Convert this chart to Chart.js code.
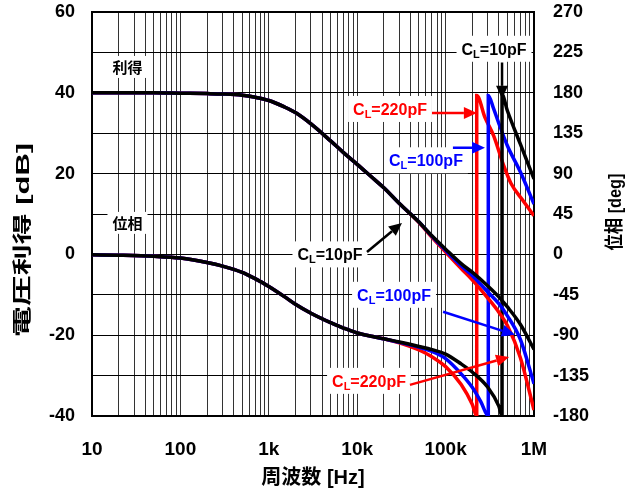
<!DOCTYPE html>
<html>
<head>
<meta charset="utf-8">
<script src="https://cdn.jsdelivr.net/npm/chart.js@4.4.1/dist/chart.umd.min.js"></script>
<style>
html, body { margin: 0; padding: 0; background: #fff; }
canvas { display: block; }
</style>
</head>
<body>
<canvas id="bode" width="636" height="495"></canvas>
<script>
'use strict';

// gain [dB] vs frequency [Hz]
const gainFreq = [10, 20, 50, 100, 200, 300, 500, 700, 1000, 1500, 2000, 3000, 5000, 7000, 10000, 15000, 20000, 30000, 50000, 70000, 100000, 150000, 200000, 300000, 400000, 500000, 700000, 1000000];
const gain10pF = [40.0, 40.0, 40.0, 39.9, 39.8, 39.7, 39.4, 38.9, 38.1, 36.5, 35.1, 32.3, 28.1, 25.2, 22.3, 18.9, 16.5, 12.6, 8.0, 4.6, 1.3, -2.3, -4.4, -7.8, -10.5, -13.0, -17.3, -23.5];
const gain100pF = [40.0, 40.0, 40.0, 39.9, 39.8, 39.7, 39.4, 38.9, 38.1, 36.5, 35.1, 32.3, 28.1, 25.2, 22.3, 18.9, 16.5, 12.6, 8.0, 4.5, 1.0, -2.8, -5.2, -9.3, -12.2, -15.2, -21.0, -32.0];
const gain220pF = [40.0, 40.0, 40.0, 39.9, 39.8, 39.7, 39.4, 38.9, 38.1, 36.5, 35.1, 32.3, 28.1, 25.2, 22.3, 18.9, 16.5, 12.6, 7.9, 4.2, 0.6, -3.5, -6.3, -10.8, -14.3, -17.6, -25.5, -38.5];

// phase [deg], the jump at -180 -> +180 is kept as two points at the same frequency
const phaseFreq10pF = [10, 20, 50, 100, 200, 300, 500, 700, 1000, 1500, 2000, 3000, 5000, 7000, 10000, 15000, 20000, 30000, 50000, 70000, 100000, 150000, 200000, 300000, 400000, 435000, 435000, 500000, 700000, 1000000];
const phase10pF = [-0.4, -0.9, -2.1, -4.1, -9, -13, -20, -27, -35.7, -47, -55.5, -65.5, -76, -82, -87.5, -91.5, -94, -97.5, -102.5, -106, -111, -122, -131, -148, -169, -180, 178, 160, 123, 84];
const phaseFreq100pF = [10, 20, 50, 100, 200, 300, 500, 700, 1000, 1500, 2000, 3000, 5000, 7000, 10000, 15000, 20000, 30000, 50000, 70000, 100000, 150000, 200000, 250000, 304000, 304000, 350000, 400000, 500000, 700000, 1000000];
const phase100pF = [-0.4, -0.9, -2.1, -4.1, -9, -13, -20, -27, -35.7, -47, -55.5, -65.5, -76, -82, -87.5, -91.5, -94, -98, -103.5, -108, -116, -133, -148, -164, -180, 177, 162, 146, 121, 92, 56];
const phaseFreq220pF = [10, 20, 50, 100, 200, 300, 500, 700, 1000, 1500, 2000, 3000, 5000, 7000, 10000, 15000, 20000, 30000, 50000, 70000, 100000, 150000, 200000, 225000, 225000, 280000, 350000, 450000, 550000, 750000, 1000000];
const phase220pF = [-0.4, -0.9, -2.1, -4.1, -9, -13, -20, -27, -35.7, -47, -55.5, -65.5, -76, -82, -87.5, -91.5, -94, -98.5, -106.5, -114, -125, -145, -167, -180, 177, 152, 132, 100, 79, 60, 43];

// axes
const xDecades = [10, 100, 1000, 10000, 100000, 1000000];
const xTickLabels = ['10', '100', '1k', '10k', '100k', '1M'];
const phaseTicks = [-180, -135, -90, -45, 0, 45, 90, 135, 180, 225, 270];

const RED = '#ff0000';
const BLUE = '#0000ff';
const BLACK = '#000000';
const FAMILY = "'Liberation Sans', Arial, 'Noto Sans CJK JP', sans-serif";

// annotation labels and arrows, placed in data coords (Hz, dB)
const notes = [
	{text: '利得', f: 25.2, db: 46.4, color: BLACK},
	{text: '位相', f: 25.2, db: 7.8, color: BLACK},
	{cl: '10pF', f: 4920, db: 0, color: BLACK},
	{cl: '10pF', f: 353000, db: 50.9, color: BLACK},
	{cl: '220pF', f: 23500, db: 36, color: RED},
	{cl: '100pF', f: 60000, db: 23.3, color: BLUE},
	{cl: '100pF', f: 26100, db: -10, color: BLUE},
	{cl: '220pF', f: 13600, db: -31.3, color: RED},
];
const arrows = [
	{from: [12900, 0.6], to: [32100, 7.8], color: BLACK},
	{from: [435000, 47.5], to: [435000, 38.5], color: BLACK},
	{from: [70200, 35], to: [226000, 35], color: RED},
	{from: [121000, 26.4], to: [279000, 26.4], color: BLUE},
	{from: [93600, -14.2], to: [609000, -19.9], color: BLUE},
	{from: [39500, -32.3], to: [523000, -25.4], color: RED},
];

function pts(xs, ys) {
	return xs.map((x, i) => ({x: x, y: ys[i]}));
}

function minorTicks() {
	let out = [];
	for (let d of xDecades) {
		if (d >= 1000000) {
			out.push(d);
			break;
		}
		for (let m = 1; m < 10; m++) {
			out.push(d * m);
		}
	}
	return out;
}

// keep the plot box fixed: no extra room for half tick labels
function fixBox(size) {
	return scale => {
		if (scale.isHorizontal()) {
			scale.height = size;
		} else {
			scale.width = size;
		}
		scale.paddingTop = 0;
		scale.paddingBottom = 0;
		scale.paddingLeft = 0;
		scale.paddingRight = 0;
	};
}

function drawArrow(ctx, x1, y1, x2, y2, color) {
	let ang = Math.atan2(y2 - y1, x2 - x1);
	let len = 13, half = 6;
	let bx = x2 - len * Math.cos(ang), by = y2 - len * Math.sin(ang);
	ctx.strokeStyle = color;
	ctx.lineWidth = 2.5;
	ctx.beginPath();
	ctx.moveTo(x1, y1);
	ctx.lineTo(bx, by);
	ctx.stroke();
	ctx.fillStyle = color;
	ctx.beginPath();
	ctx.moveTo(x2, y2);
	ctx.lineTo(bx + half * Math.sin(ang), by - half * Math.cos(ang));
	ctx.lineTo(bx - half * Math.sin(ang), by + half * Math.cos(ang));
	ctx.closePath();
	ctx.fill();
}

function drawNote(ctx, cx, cy, note) {
	let main = 'bold 16px ' + FAMILY;
	let sub = 'bold 11px ' + FAMILY;
	let base = cy + 6;
	ctx.textAlign = 'left';
	ctx.textBaseline = 'alphabetic';
	if (note.text) {
		ctx.font = 'bold 15px ' + FAMILY;
		let w = ctx.measureText(note.text).width;
		ctx.fillStyle = '#fff';
		ctx.fillRect(cx - w / 2 - 5, cy - 11, w + 10, 22);
		ctx.fillStyle = note.color;
		ctx.fillText(note.text, cx - w / 2, base);
		return;
	}
	ctx.font = main;
	let wC = ctx.measureText('C').width;
	let rest = '=' + note.cl;
	let wR = ctx.measureText(rest).width;
	ctx.font = sub;
	let wL = ctx.measureText('L').width;
	let total = wC + wL + wR;
	let x = cx - total / 2;
	ctx.fillStyle = '#fff';
	ctx.fillRect(x - 5, cy - 13, total + 10, 26);
	ctx.fillStyle = note.color;
	ctx.font = main;
	ctx.fillText('C', x, base);
	x += wC;
	ctx.font = sub;
	ctx.fillText('L', x, base + 3);
	x += wL;
	ctx.font = main;
	ctx.fillText(rest, x, base);
}

function drawVTitle(ctx, text, cx, cy, length) {
	ctx.save();
	ctx.font = 'bold 19px ' + FAMILY;
	let w = ctx.measureText(text).width;
	ctx.translate(cx, cy);
	ctx.rotate(-Math.PI / 2);
	ctx.scale(length / w, 1);
	ctx.fillStyle = '#000';
	ctx.textAlign = 'center';
	ctx.textBaseline = 'middle';
	ctx.fillText(text, 0, 0);
	ctx.restore();
}

const decor = {
	id: 'decor',
	beforeDatasetsDraw(chart) {
		let ctx = chart.ctx;
		let a = chart.chartArea;
		ctx.save();
		ctx.strokeStyle = '#000';
		ctx.lineWidth = 2;
		ctx.strokeRect(a.left, a.top, a.right - a.left, a.bottom - a.top);
		for (let n of notes) {
			let cx = chart.scales.x.getPixelForValue(n.f);
			let cy = chart.scales.y.getPixelForValue(n.db);
			drawNote(ctx, cx, cy, n);
		}
		drawVTitle(ctx, '電圧利得 [dB]', 24, 240, 194);
		drawVTitle(ctx, '位相 [deg]', 616, 212, 77);
		ctx.restore();
	},
	afterDatasetsDraw(chart) {
		let ctx = chart.ctx;
		let sx = chart.scales.x, sy = chart.scales.y;
		ctx.save();
		for (let ar of arrows) {
			drawArrow(ctx,
				sx.getPixelForValue(ar.from[0]), sy.getPixelForValue(ar.from[1]),
				sx.getPixelForValue(ar.to[0]), sy.getPixelForValue(ar.to[1]),
				ar.color);
		}
		ctx.restore();
	}
};

function line(label, data, color, axis) {
	return {
		label: label,
		data: data,
		borderColor: color,
		backgroundColor: color,
		borderWidth: 3.5,
		pointRadius: 0,
		cubicInterpolationMode: 'monotone',
		fill: false,
		yAxisID: axis,
	};
}

// first dataset ends up on top, so black comes first
new Chart(document.getElementById('bode'), {
	type: 'line',
	data: {
		datasets: [
			line('gain 10pF', pts(gainFreq, gain10pF), BLACK, 'y'),
			line('gain 100pF', pts(gainFreq, gain100pF), BLUE, 'y'),
			line('gain 220pF', pts(gainFreq, gain220pF), RED, 'y'),
			line('phase 10pF', pts(phaseFreq10pF, phase10pF), BLACK, 'y2'),
			line('phase 100pF', pts(phaseFreq100pF, phase100pF), BLUE, 'y2'),
			line('phase 220pF', pts(phaseFreq220pF, phase220pF), RED, 'y2'),
		]
	},
	plugins: [decor],
	options: {
		responsive: false,
		animation: false,
		layout: {padding: {top: 12, left: 0, right: 0, bottom: 0}},
		plugins: {
			legend: {display: false},
			tooltip: {enabled: false},
		},
		scales: {
			x: {
				type: 'logarithmic',
				min: 10,
				max: 1000000,
				afterBuildTicks: scale => {
					scale.ticks = minorTicks().map(v => ({value: v}));
				},
				afterFit: fixBox(79),
				grid: {color: '#333', lineWidth: 1, drawTicks: false},
				border: {display: false},
				ticks: {
					autoSkip: false,
					maxRotation: 0,
					padding: 22,
					color: '#000',
					font: {family: FAMILY, size: 19, weight: 'bold'},
					callback: v => {
						let ix = xDecades.indexOf(v);
						return ix >= 0 ? xTickLabels[ix] : '';
					},
				},
				title: {
					display: true,
					text: '周波数 [Hz]',
					color: '#000',
					padding: {top: 0, bottom: 5},
					font: {family: FAMILY, size: 20, weight: 'bold'},
				},
			},
			y: {
				position: 'left',
				min: -40,
				max: 60,
				afterFit: fixBox(92),
				grid: {color: '#000', lineWidth: 1, drawTicks: false},
				border: {display: false},
				ticks: {
					stepSize: 10,
					padding: 17,
					color: '#000',
					font: {family: FAMILY, size: 18, weight: 'bold'},
					callback: v => (v % 20 === 0 ? String(v) : ''),
				},
			},
			y2: {
				position: 'right',
				min: -180,
				max: 270,
				afterBuildTicks: scale => {
					scale.ticks = phaseTicks.map(v => ({value: v}));
				},
				afterFit: fixBox(102),
				grid: {drawOnChartArea: false, drawTicks: false},
				border: {display: false},
				ticks: {
					padding: 19,
					color: '#000',
					font: {family: FAMILY, size: 18, weight: 'bold'},
				},
			},
		},
	},
});
</script>
</body>
</html>
